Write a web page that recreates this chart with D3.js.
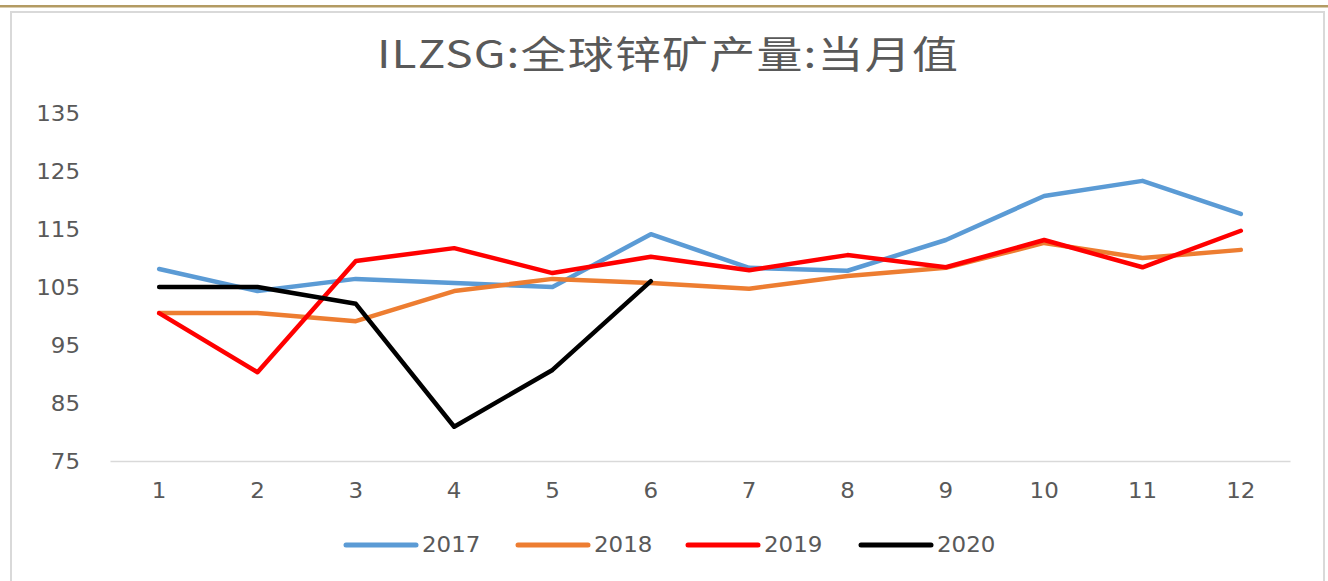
<!DOCTYPE html>
<html><head><meta charset="utf-8">
<script src="https://cdn.jsdelivr.net/npm/d3@7"></script>
<style>body{margin:0;background:#fff;}svg{display:block;}</style>
</head><body>
<svg id="c" width="1328" height="581"></svg>
<script>
const months = ["1","2","3","4","5","6","7","8","9","10","11","12"];
const yTicks = [75,85,95,105,115,125,135];
const s2017 = [108.1,104.3,106.4,105.7,105.0,114.1,108.3,107.8,113.1,120.7,123.3,117.6];
const s2018 = [100.5,100.5,99.1,104.3,106.4,105.7,104.7,106.9,108.3,112.6,110.0,111.4];
const s2019 = [100.5,90.3,109.5,111.7,107.4,110.2,107.9,110.5,108.4,113.1,108.4,114.7];
const s2020 = [105.0,105.0,102.1,80.9,90.7,106.0];
const seriesNames = ["2017","2018","2019","2020"];
const seriesColors = ["#5b9bd5","#ed7d31","#ff0000","#000000"];
const title = "ILZSG:全球锌矿产量:当月值";

const series = [s2017,s2018,s2019,s2020].map((v,i)=>({name:seriesNames[i],color:seriesColors[i],values:v}));
const svg = d3.select("#c");
const numFont = "'DejaVu Sans', Verdana, sans-serif";
const sx = 1.12;
// top gold rule
svg.append("rect").attr("x",0).attr("y",5).attr("width",1328).attr("height",2.5).attr("fill","#b39b63");
// chart frame
svg.append("rect").attr("x",11).attr("y",12).attr("width",1313).attr("height",580).attr("fill","#fff").attr("stroke","#d9d9d9").attr("stroke-width",2);

const x = d3.scaleBand().domain(months).range([110,1290]);
const y = d3.scaleLinear().domain([75,135]).range([461,113]);

svg.append("text").attr("transform","translate(668,68) scale(1.21,1)").attr("text-anchor","middle")
  .attr("font-family","'Noto Sans CJK SC', sans-serif").attr("font-size",38).attr("fill","#595959")
  .attr("letter-spacing",1).text(title);

const yAxis = d3.axisLeft(y).tickValues(yTicks).tickSize(0).tickPadding(0);
const gy = svg.append("g").attr("transform","translate(80,0)").call(yAxis);
gy.select(".domain").remove();
gy.selectAll("text").attr("font-family",numFont).attr("font-size",20.5).attr("fill","#595959").attr("dy","0.35em")
  .attr("transform",`scale(${sx},1)`);

const xAxis = d3.axisBottom(x).tickSize(0).tickPadding(0);
const gx = svg.append("g").attr("transform","translate(0,461)").call(xAxis);
gx.select(".domain").attr("stroke","#d9d9d9").attr("stroke-width",1.5);
gx.selectAll("text").attr("font-family",numFont).attr("font-size",20.5).attr("fill","#595959").attr("y",37).attr("dy","0")
  .attr("transform",`scale(${sx},1)`);

const line = d3.line().x((d,i)=>x(months[i])+x.bandwidth()/2).y(d=>y(d));
svg.append("g").selectAll("path").data(series).join("path")
  .attr("d",d=>line(d.values)).attr("fill","none").attr("stroke",d=>d.color)
  .attr("stroke-width",4.5).attr("stroke-linejoin","round").attr("stroke-linecap","round");

// legend
const legX = [346,518,688,861];
const lg = svg.append("g").selectAll("g").data(series).join("g").attr("transform",(d,i)=>`translate(${legX[i]},545)`);
lg.append("line").attr("x1",0).attr("x2",70).attr("y1",0).attr("y2",0).attr("stroke",d=>d.color).attr("stroke-width",5).attr("stroke-linecap","round");
lg.append("text").attr("transform",`translate(76,0) scale(${sx},1)`).attr("dy","0.35em").attr("font-family",numFont).attr("font-size",20.5).attr("fill","#595959").text(d=>d.name);
</script>
</body></html>
